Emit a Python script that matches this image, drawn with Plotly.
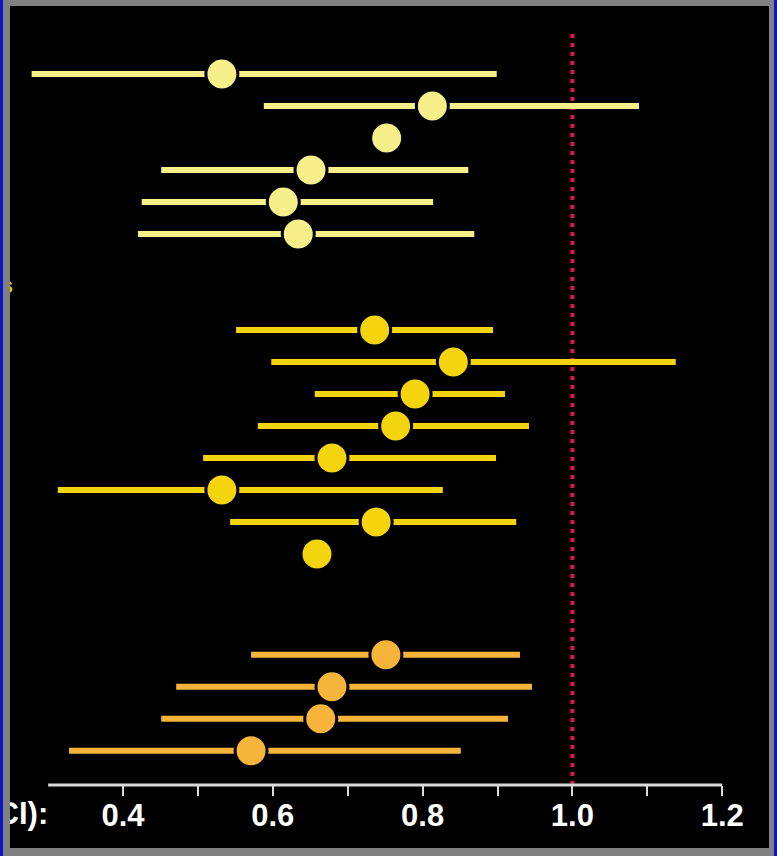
import plotly.graph_objects as go

# ---- data: point estimates with 95% confidence limits, one row per study ----
rows_a = [0, 1, 2, 3, 4, 5]
est_a = [0.532, 0.813, 0.752, 0.651, 0.614, 0.634]
lo_a = [0.278, 0.588, 0.752, 0.451, 0.425, 0.420]
hi_a = [0.899, 1.089, 0.752, 0.861, 0.814, 0.869]

rows_b = [8, 9, 10, 11, 12, 13, 14, 15]
est_b = [0.736, 0.841, 0.790, 0.764, 0.679, 0.532, 0.738, 0.659]
lo_b = [0.551, 0.598, 0.656, 0.580, 0.507, 0.313, 0.543, 0.659]
hi_b = [0.894, 1.138, 0.910, 0.942, 0.898, 0.827, 0.925, 0.659]

rows_c = [18.15, 19.15, 20.15, 21.15]
est_c = [0.751, 0.679, 0.664, 0.571]
lo_c = [0.571, 0.471, 0.451, 0.328]
hi_c = [0.930, 0.946, 0.914, 0.851]

tick_vals = [0.4, 0.5, 0.6, 0.7, 0.8, 0.9, 1.0, 1.1, 1.2]
tick_text = ["0.4", "", "0.6", "", "0.8", "", "1.0", "", "1.2"]
axis_label = "(95% CI):"
group_label = "Subgroups"
reference_value = 1.0

# ---- geometry ----
W, H = 777, 856
M_L, M_R, M_T, M_B = 10, 8, 6, 8
PLOT_W = W - M_L - M_R
PLOT_H = H - M_T - M_B
PX_PER_UNIT = 749.0          # horizontal pixels per 1.0 of ratio
X0 = 0.4 - (123 - M_L) / PX_PER_UNIT
X1 = X0 + PLOT_W / PX_PER_UNIT
ROW_PX = 32.0
Y_TOP = (M_T - 74) / ROW_PX
Y_BOT = (H - M_B - 74) / ROW_PX
AXIS_POS = (H - M_B - 785) / PLOT_H
REF_TOP = (H - M_B - 32) / PLOT_H

colors = {"a": "#f6ef8a", "b": "#f4d40c", "c": "#f6b43a"}
FONT = "Liberation Sans, Arial, Helvetica, sans-serif"

fig = go.Figure()


def add_group(rows, est, lo, hi, color):
    fig.add_trace(go.Scatter(
        x=est, y=rows, mode="markers",
        marker=dict(size=32, color=color, line=dict(color="black", width=3)),
        error_x=dict(type="data", symmetric=False,
                     array=[h - e for h, e in zip(hi, est)],
                     arrayminus=[e - l for e, l in zip(est, lo)],
                     color=color, thickness=6, width=0),
        cliponaxis=False, showlegend=False, hoverinfo="skip",
    ))


add_group(rows_a, est_a, lo_a, hi_a, colors["a"])
add_group(rows_b, est_b, lo_b, hi_b, colors["b"])
add_group(rows_c, est_c, lo_c, hi_c, colors["c"])

# labels running off the left edge, clipped by the plotting area
fig.add_trace(go.Scatter(
    x=[0.3002], y=[(816 - 74) / ROW_PX], mode="text", text=[axis_label],
    textposition="middle left",
    textfont=dict(family=FONT, size=31, color="white", weight="bold"),
    cliponaxis=True, showlegend=False, hoverinfo="skip",
))
fig.add_trace(go.Scatter(
    x=[0.2531], y=[(287 - 74) / ROW_PX], mode="text", text=[group_label],
    textposition="middle left",
    textfont=dict(family=FONT, size=22, color="#efd600", weight="bold"),
    cliponaxis=True, showlegend=False, hoverinfo="skip",
))

shapes = [
    # line of no effect
    dict(type="line", xref="x", yref="paper", x0=reference_value, x1=reference_value,
         y0=AXIS_POS, y1=REF_TOP, layer="below",
         line=dict(color="#e3154d", width=4, dash="4px,5px")),
    # x axis baseline
    dict(type="line", xref="x", yref="paper", x0=0.3, x1=1.2, y0=AXIS_POS, y1=AXIS_POS,
         layer="above", line=dict(color="#d9d9d9", width=3)),
    # blue outer edges of the frame
    dict(type="rect", xref="paper", yref="paper", x0=-M_L / PLOT_W, x1=(3 - M_L) / PLOT_W,
         y0=-M_B / PLOT_H, y1=1 + M_T / PLOT_H, fillcolor="#0a14c8", line=dict(width=0)),
    dict(type="rect", xref="paper", yref="paper", x0=(774 - M_L) / PLOT_W, x1=(W - M_L) / PLOT_W,
         y0=-M_B / PLOT_H, y1=1 + M_T / PLOT_H, fillcolor="#0a14c8", line=dict(width=0)),
]

fig.update_layout(
    width=W, height=H,
    margin=dict(l=M_L, r=M_R, t=M_T, b=M_B, pad=0),
    paper_bgcolor="#808080",
    plot_bgcolor="black",
    shapes=shapes,
    showlegend=False,
    xaxis=dict(
        range=[X0, X1], anchor="free", position=AXIS_POS,
        showgrid=False, zeroline=False, showline=False,
        tickmode="array", tickvals=tick_vals, ticktext=tick_text,
        ticks="outside", ticklen=10, tickwidth=2, tickcolor="#d9d9d9",
        ticklabelstandoff=-7,
        tickfont=dict(family=FONT, size=31, color="white", weight="bold"),
        automargin=False, fixedrange=True,
    ),
    yaxis=dict(
        range=[Y_BOT, Y_TOP], visible=False, showgrid=False, zeroline=False,
        automargin=False, fixedrange=True,
    ),
)

fig.write_html("out.html")
